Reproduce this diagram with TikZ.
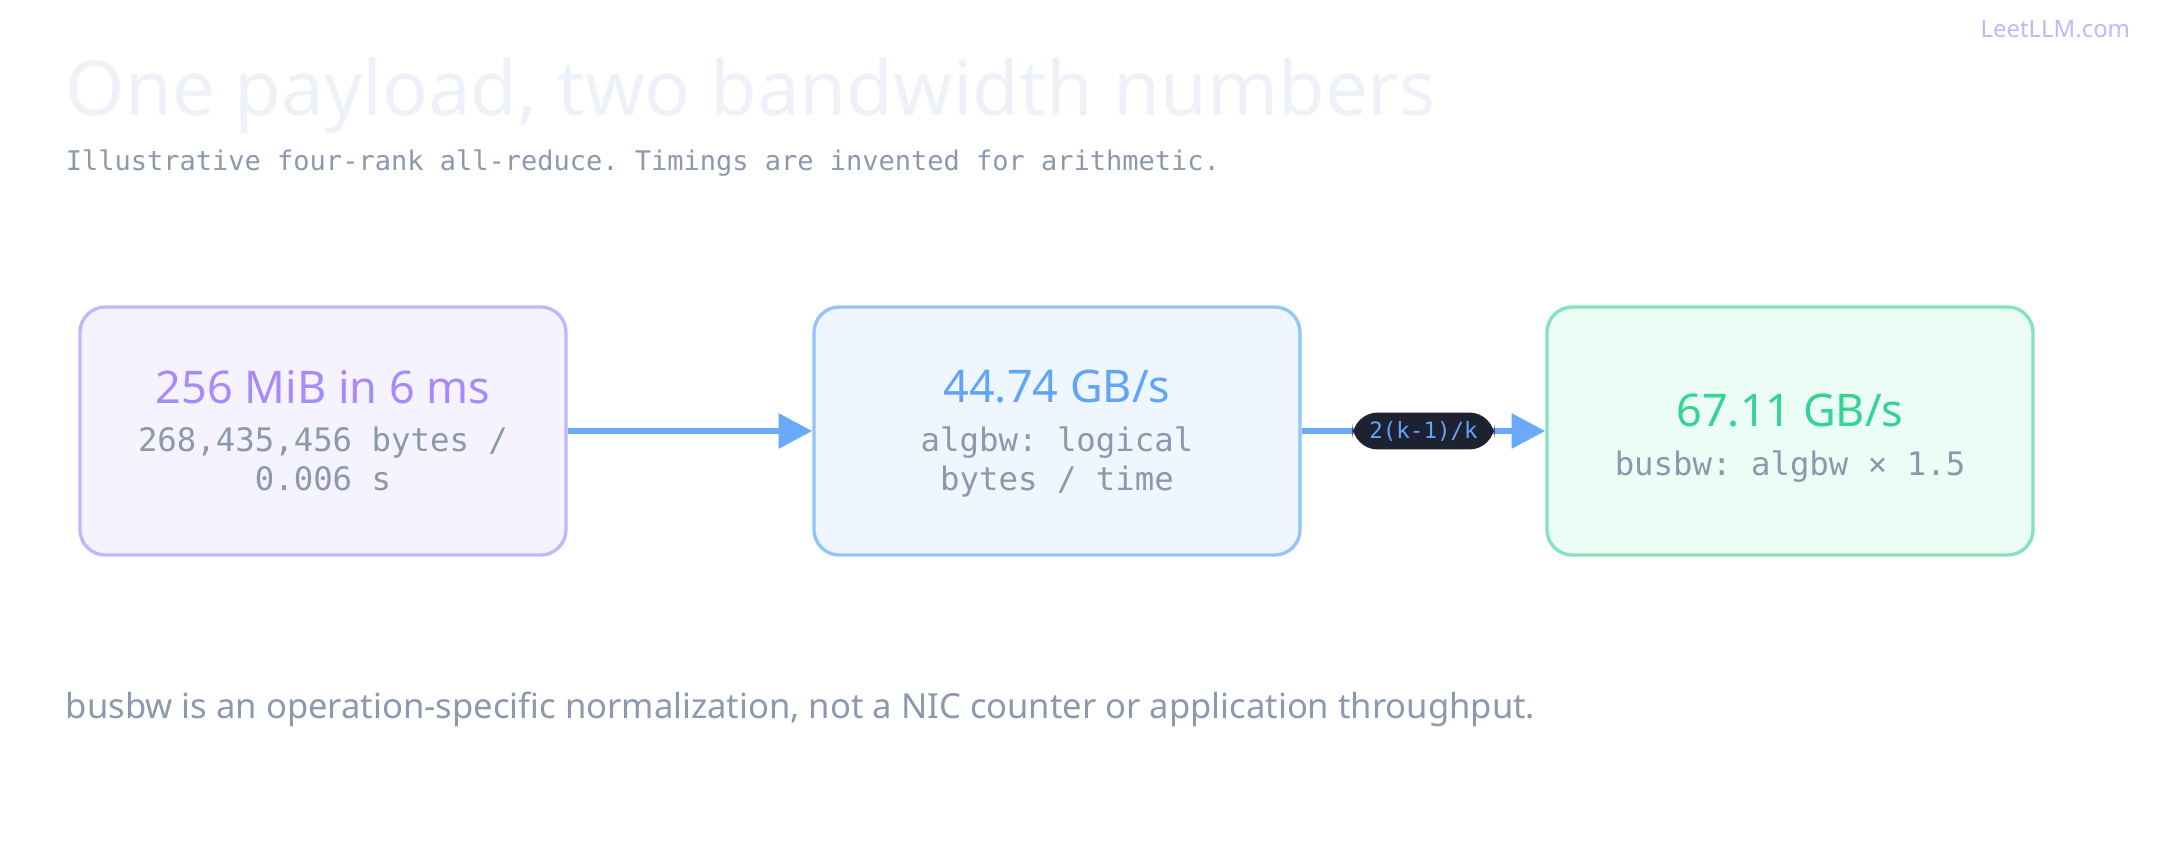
\documentclass[tikz,border=0pt]{standalone}
\usepackage{fontspec}
\setmainfont{Noto Sans}
\setmonofont{DejaVu Sans Mono}
\usetikzlibrary{positioning,arrows.meta}
\definecolor{titlegray}{HTML}{EEF2F8}
\definecolor{subgray}{HTML}{8B98AD}
\definecolor{purpfill}{HTML}{F5F3FF}
\definecolor{purpline}{HTML}{C4B5FD}
\definecolor{purptext}{HTML}{A78BFA}
\definecolor{bluefill}{HTML}{EFF6FF}
\definecolor{blueline}{HTML}{93C5FD}
\definecolor{bluetext}{HTML}{60A5FA}
\definecolor{greenfill}{HTML}{ECFDF5}
\definecolor{greenline}{HTML}{86E2BC}
\definecolor{greentext}{HTML}{34D399}
\definecolor{arrowblue}{HTML}{6AAAF8}
\definecolor{pilldark}{HTML}{1E2130}
\tikzset{
  stage/.style={draw, line width=1.2pt, rounded corners=9pt, minimum width=486*0.0125cm, minimum height=248*0.0125cm},
  head/.style={font=\fontsize{16}{18}\selectfont\bfseries},
  mono/.style={font=\ttfamily\fontsize{11.5}{14}\selectfont, text=subgray, align=center},
  flow/.style={-{Triangle[length=12pt,width=12pt]}, line width=2.4pt, arrowblue}
}
\begin{document}
\begin{tikzpicture}[x=0.0125cm, y=-0.0125cm]
\useasboundingbox (0,0) rectangle (2160,860);
\node[anchor=base west, text=titlegray, font=\fontsize{27}{30}\selectfont\bfseries] (title) at (56,115) {One payload, two bandwidth numbers};
\node[anchor=base west, text=subgray, font=\ttfamily\fontsize{9.6}{11}\selectfont] (subtitle) at (56,170) {Illustrative four-rank all-reduce. Timings are invented for arithmetic.};
\node[anchor=east, text=purpline, font=\fontsize{8.5}{10}\selectfont\bfseries] (logo) at (2140,29) {LeetLLM.com};
% stages
\node[stage, draw=purpline, fill=purpfill] (payload) at (323,431) {};
\node[stage, draw=blueline, fill=bluefill] (algbw) at (1057,431) {};
\node[stage, draw=greenline, fill=greenfill] (busbw) at (1790,431) {};
\node[head, text=purptext] (payloadhead) at (323,387) {256 MiB in 6 ms};
\node[mono, below=1pt of payloadhead] {268,435,456 bytes /\\0.006 s};
\node[head, text=bluetext] (algbwhead) at (1057,387) {44.74 GB/s};
\node[mono, below=1pt of algbwhead] {algbw: logical\\bytes / time};
\node[head, text=greentext] (busbwhead) at (1790,411) {67.11 GB/s};
\node[mono, below=1pt of busbwhead] {busbw: algbw × 1.5};
% arrows
\draw[flow] (payload) -- (algbw);
\draw[flow] (algbw) -- node[fill=pilldark, text=bluetext, rounded corners=9pt, inner xsep=6pt, inner ysep=3pt, font=\ttfamily\fontsize{8}{9}\selectfont] (factor) {2(k-1)/k} (busbw);
\node[anchor=base west, text=subgray, font=\fontsize{12.3}{14}\selectfont] (note) at (56,718) {busbw is an operation-specific normalization, not a NIC counter or application throughput.};
\end{tikzpicture}
\end{document}
